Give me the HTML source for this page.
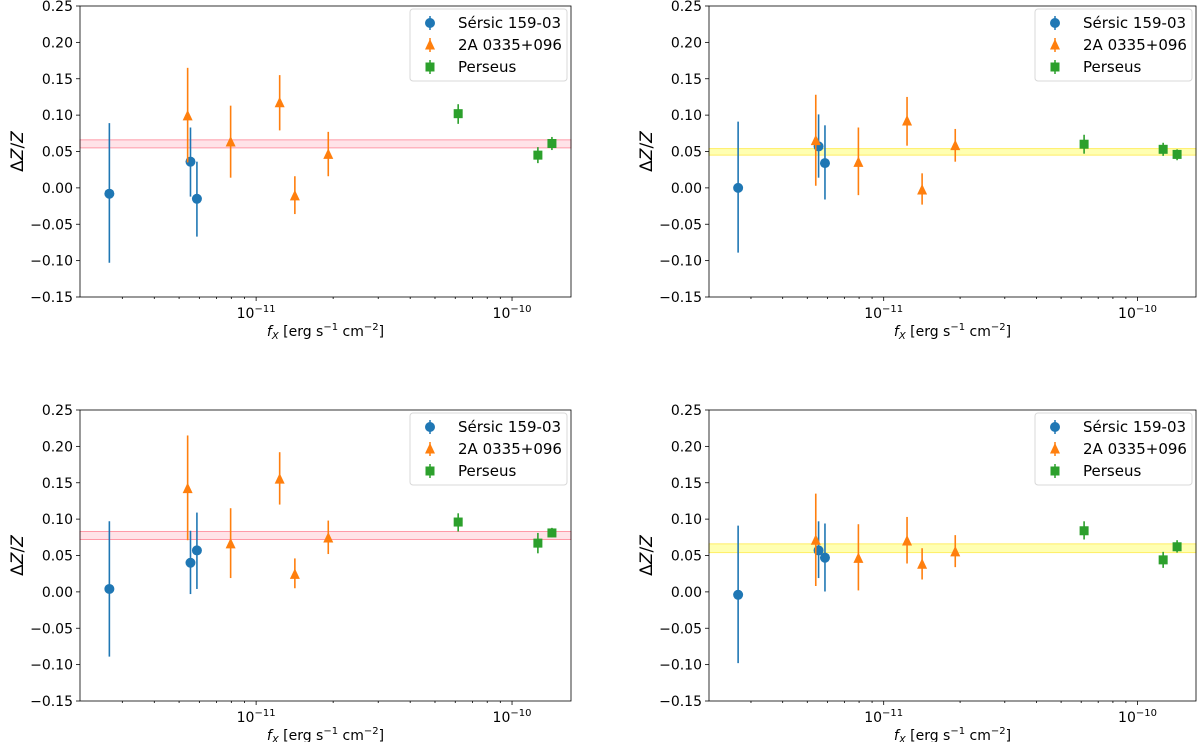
<!DOCTYPE html>
<html><head><meta charset="utf-8"><style>
body{margin:0;background:#fff;}
svg{display:block;font-family:"DejaVu Sans","Liberation Sans",sans-serif;}
</style></head><body>
<svg id="fig" width="1200" height="742" viewBox="0 0 1200 742"></svg>
<script>
const xFlux = [2.67e-12, 5.54e-12, 5.87e-12];
const xFluxA = [5.4e-12, 7.95e-12, 1.236e-11, 1.417e-11, 1.914e-11];
const xFluxP = [6.16e-11, 1.262e-10, 1.432e-10];
const yTicks = [0.25,0.20,0.15,0.10,0.05,0.00,-0.05,-0.10,-0.15];
const yTickLabels = ["0.25","0.20","0.15","0.10","0.05","0.00","\u22120.05","\u22120.10","\u22120.15"];
const seriesNames = ["Sérsic 159-03","2A 0335+096","Perseus"];
// panel data: [value, low, high]
const tlS=[[-0.008,-0.103,0.089],[0.036,-0.012,0.083],[-0.015,-0.067,0.036]];
const tlA=[[0.099,0.035,0.165],[0.063,0.014,0.113],[0.117,0.079,0.155],[-0.011,-0.036,0.016],[0.046,0.016,0.077]];
const tlP=[[0.102,0.088,0.115],[0.045,0.034,0.056],[0.061,0.052,0.070]];
const tlBand=[0.055,0.066];
const trS=[[0.0,-0.089,0.091],[0.057,0.014,0.101],[0.034,-0.016,0.086]];
const trA=[[0.065,0.003,0.128],[0.035,-0.010,0.083],[0.092,0.058,0.125],[-0.003,-0.023,0.020],[0.058,0.036,0.081]];
const trP=[[0.060,0.047,0.073],[0.053,0.044,0.062],[0.046,0.038,0.053]];
const trBand=[0.045,0.054];
const blS=[[0.004,-0.089,0.097],[0.040,-0.003,0.084],[0.057,0.004,0.109]];
const blA=[[0.142,0.071,0.215],[0.066,0.019,0.115],[0.155,0.120,0.192],[0.024,0.005,0.046],[0.074,0.052,0.098]];
const blP=[[0.096,0.083,0.108],[0.067,0.053,0.081],[0.081,0.075,0.088]];
const blBand=[0.072,0.083];
const brS=[[-0.004,-0.098,0.091],[0.057,0.019,0.097],[0.047,0.0005,0.094]];
const brA=[[0.071,0.008,0.135],[0.046,0.002,0.093],[0.070,0.039,0.103],[0.038,0.017,0.060],[0.055,0.034,0.078]];
const brP=[[0.084,0.072,0.097],[0.044,0.033,0.055],[0.062,0.054,0.071]];
const brBand=[0.054,0.066];

const NS="http://www.w3.org/2000/svg";
const svg=document.getElementById('fig');
function mk(tag,attrs,parent){const e=document.createElementNS(NS,tag);for(const k in attrs)e.setAttribute(k,attrs[k]);(parent||svg).appendChild(e);return e;}
const C=["#1f77b4","#ff7f0e","#2ca02c"];
const BANDC=[["#ffc0cb",0.45,"#ff9aa8"],["#ffff66",0.5,"#ffee66"]];

function marker(g,type,cx,cy,col){
  let m;
  if(type===0) m=mk('circle',{cx:cx,cy:cy,r:5,fill:col},g);
  else if(type===1) m=mk('polygon',{points:`${cx},${cy-6} ${cx-5},${cy+4.5} ${cx+5},${cy+4.5}`,fill:col},g);
  else m=mk('rect',{x:cx-4.5,y:cy-4.5,width:9,height:9,fill:col},g);
  return m;
}

function panel(name,L,R,T,B,S,A,P,band,bandType){
  const g=mk('g',{});
  
  
  const lmin=Math.log10(2.05e-12), lmax=Math.log10(1.7e-10);
  const X=v=>L+(Math.log10(v)-lmin)/(lmax-lmin)*(R-L);
  const Y=v=>T+(0.25-v)/0.4*(B-T);
  // band
  const bc=BANDC[bandType];
  const br=mk('rect',{x:L,y:Y(band[1]),width:R-L,height:Y(band[0])-Y(band[1]),fill:bc[0],'fill-opacity':bc[1],stroke:bc[2],'stroke-width':1},g);
  
  
  // y ticks
  yTicks.forEach((v,i)=>{
    mk('line',{x1:L-4,x2:L,y1:Y(v),y2:Y(v),stroke:'#000','stroke-width':0.8},g);
    const t=mk('text',{x:L-7,y:Y(v)+5,'text-anchor':'end','font-size':14},g);
    t.textContent=yTickLabels[i];
    
    
  });
  // x ticks (log)
  for(let d=-12;d<=-10;d++){for(let k=1;k<10;k++){const v=k*Math.pow(10,d);const x=X(v);if(x<L||x>R)continue;
    mk('line',{x1:x,x2:x,y1:B,y2:B+(k===1?4:2),stroke:'#000','stroke-width':0.8},g);
    if(k===1){const t=mk('text',{x:x,y:B+21,'text-anchor':'middle','font-size':14},g);
      
      
      t.innerHTML=`10<tspan dy="-6" font-size="10">\u2212${-d}</tspan>`;}
  }}
  const xl=mk('text',{x:(L+R)/2,y:B+39,'text-anchor':'middle','font-size':14},g);
  
  
  xl.innerHTML='<tspan font-style="italic">f</tspan><tspan font-style="italic" font-size="10" dy="3">X</tspan><tspan dy="-3"> [erg s</tspan><tspan dy="-6" font-size="10">\u22121</tspan><tspan dy="6"> cm</tspan><tspan dy="-6" font-size="10">\u22122</tspan><tspan dy="6">]</tspan>';
  const yl=mk('text',{transform:`translate(${L-57},${(T+B)/2}) rotate(-90)`,'text-anchor':'middle','font-size':17},g);
  
  
  yl.innerHTML='\u0394<tspan font-style="italic">Z</tspan>/<tspan font-style="italic">Z</tspan>';
  // series
  [[xFlux,S],[xFluxA,A],[xFluxP,P]].forEach(([xs,d],si)=>{
    d.forEach((p,i)=>{
      const x=X(xs[i]);
      const e=mk('line',{x1:x,x2:x,y1:Y(p[1]),y2:Y(p[2]),stroke:C[si],'stroke-width':1.6},g);
      
      
      const m=marker(g,si,x,Y(p[0]),C[si]);
      
      
    });
  });
  mk('rect',{x:L,y:T,width:R-L,height:B-T,fill:'none',stroke:'#000','stroke-width':0.8},g);
  // legend
  const lg=mk('g',{},g);
  
  
  const lx=R-161, ly=T+3;
  mk('rect',{x:lx,y:ly,width:157,height:72,rx:3,fill:'#fff','fill-opacity':0.85,stroke:'#d8d8d8'},lg);
  seriesNames.forEach((n,i)=>{
    const cy=ly+14+i*22;
    const mx=lx+20;
    mk('line',{x1:mx,x2:mx,y1:cy-7,y2:cy+7,stroke:C[i],'stroke-width':1.5},lg);
    marker(lg,i,mx,cy,C[i]);
    const t=mk('text',{x:lx+48,y:cy+5,'font-size':15},lg);
    t.textContent=n;
    
    
  });
}
panel('panel-top-left',80,571,6,297,tlS,tlA,tlP,tlBand,0);
panel('panel-top-right',709,1196,6,297,trS,trA,trP,trBand,1);
panel('panel-bottom-left',80,571,410,701,blS,blA,blP,blBand,0);
panel('panel-bottom-right',709,1196,410,701,brS,brA,brP,brBand,1);
</script>
</body></html>
